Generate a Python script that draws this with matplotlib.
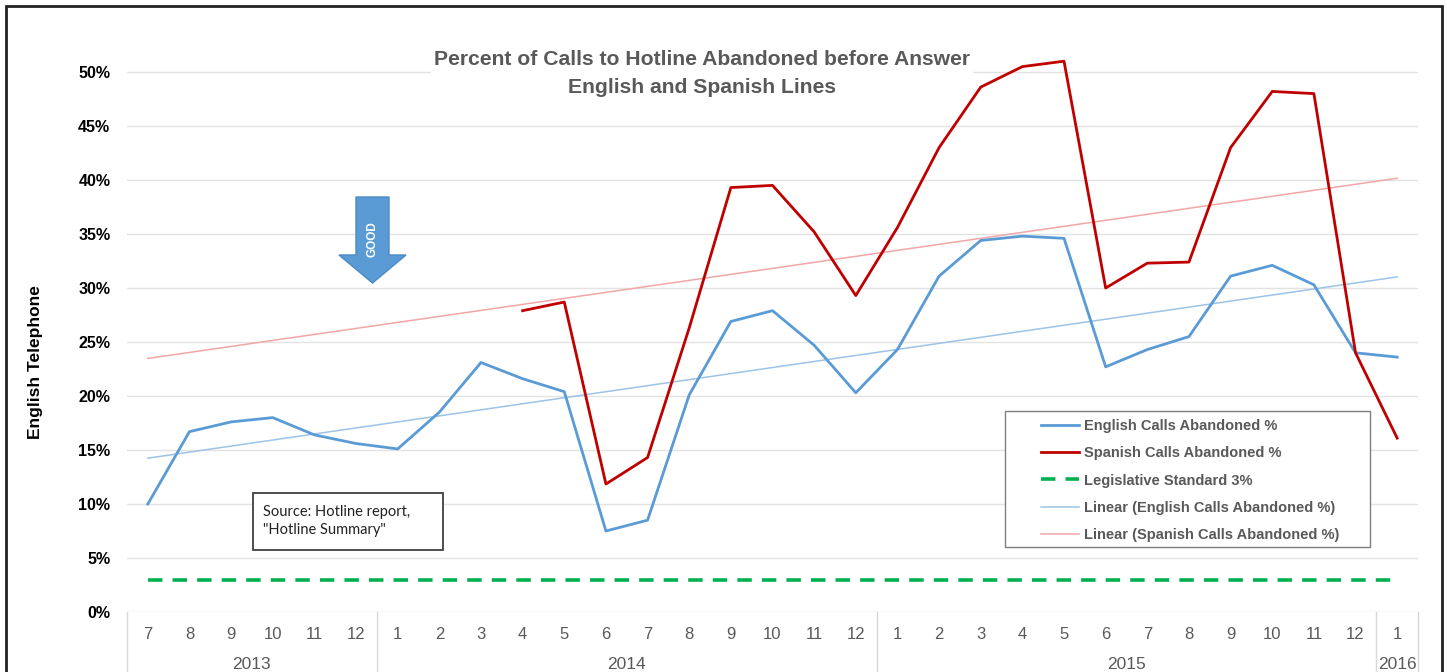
import matplotlib
matplotlib.use("Agg")
import matplotlib.pyplot as plt
import matplotlib.patches as mpatches
import matplotlib.transforms as mtransforms
import numpy as np

plt.rcParams['font.family'] = ['Liberation Sans', 'DejaVu Sans']

# months Jul 2013 .. Jan 2016
months = [7, 8, 9, 10, 11, 12,
          1, 2, 3, 4, 5, 6, 7, 8, 9, 10, 11, 12,
          1, 2, 3, 4, 5, 6, 7, 8, 9, 10, 11, 12,
          1]
years = ['2013', '2014', '2015', '2016']
year_len = [6, 12, 12, 1]

english = [10.0, 16.7, 17.6, 18.0, 16.4, 15.6,
           15.1, 18.5, 23.1, 21.6, 20.4, 7.5, 8.5, 20.1, 26.9, 27.9, 24.7, 20.3,
           24.3, 31.1, 34.4, 34.8, 34.6, 22.7, 24.3, 25.5, 31.1, 32.1, 30.3, 24.0,
           23.6]
spanish = [np.nan] * 6 + [np.nan, np.nan, np.nan, 27.9, 28.7, 11.85, 14.3, 26.3, 39.3, 39.5, 35.2, 29.3,
           35.6, 43.0, 48.6, 50.5, 51.0, 30.0, 32.3, 32.4, 43.0, 48.2, 48.0, 24.0,
           16.1]
standard = 3.0

W, H = 1447, 672
fig = plt.figure(figsize=(W / 100, H / 100), dpi=100)
ax = fig.add_axes([127 / W, 1 - 612 / H, (1418 - 127) / W, (612 - 18) / H])

x = np.arange(len(months))
eng = np.array(english) / 100
spa = np.array(spanish) / 100

c_eng = '#5B9BD5'
c_spa = '#C00000'

# trend lines (least squares like excel)
ok = ~np.isnan(eng)
pe = np.polyfit(x[ok], eng[ok], 1)
ok = ~np.isnan(spa)
ps = np.polyfit(x[ok], spa[ok], 1)

ax.plot(x, eng, color=c_eng, lw=2.0, label='English Calls Abandoned %', zorder=4)
ax.plot(x, spa, color=c_spa, lw=2.0, label='Spanish Calls Abandoned %', zorder=4)
ax.plot(x, np.full(len(x), standard / 100), color='#00B050', lw=2.6, dashes=(4, 2.8),
        label='Legislative Standard 3%', zorder=3)
ax.plot(x, np.polyval(pe, x), color='#9DC3E6', lw=1.1,
        label='Linear (English Calls Abandoned %)', zorder=3)
ax.plot(x, np.polyval(ps, x), color='#F1A7A7', lw=1.1,
        label='Linear (Spanish Calls Abandoned %)', zorder=3)

ax.set_xlim(-0.5, len(x) - 0.5)
ax.set_ylim(0, 0.55)
yt = np.arange(0, 0.51, 0.05)
ax.set_yticks(yt)
ax.set_yticklabels([f'{int(round(v * 100))}%' for v in yt], fontsize=11.5, fontweight='bold')
ax.tick_params(axis='y', length=0, pad=12)
for v in yt:
    ax.axhline(v, color='#E3E3E3', lw=1.0, zorder=1)
ax.set_xticks([])
for s in ax.spines.values():
    s.set_visible(False)

# category axis labels
tr = mtransforms.blended_transform_factory(ax.transData, ax.transAxes)
for i, m in enumerate(months):
    ax.text(i, -0.038, str(m), transform=tr, ha='center', va='center',
            fontsize=12, color='#595959', clip_on=False)
start = 0
bounds = [-0.5]
for yname, n in zip(years, year_len):
    ax.text(start + (n - 1) / 2, -0.088, yname, transform=tr, ha='center', va='center',
            fontsize=12.5, color='#595959', clip_on=False)
    start += n
    bounds.append(start - 0.5)
for b in bounds:
    ax.plot([b, b], [0, -0.12], transform=tr, color='#D9D9D9', lw=1.0, clip_on=False)

ax.set_ylabel('English Telephone', fontsize=12.5, fontweight='bold')
ax.yaxis.set_label_coords(-(127 - 43) / (1418 - 127), 0.42)

# title (white box hides gridline but sits under the data lines)
ax.text(702 / W, 1 - 73.5 / H, 'Percent of Calls to Hotline Abandoned before Answer\nEnglish and Spanish Lines',
        transform=fig.transFigure, ha='center', va='center', fontsize=15.2, fontweight='bold',
        color='#595959', linespacing=1.6, zorder=2, clip_on=False,
        bbox=dict(facecolor='white', edgecolor='none', pad=2))

# GOOD arrow
arrow = mpatches.Polygon([(356 / W, 1 - 197 / H), (389 / W, 1 - 197 / H), (389 / W, 1 - 255 / H),
                          (406 / W, 1 - 255 / H), (372.5 / W, 1 - 283 / H), (339 / W, 1 - 255 / H),
                          (356 / W, 1 - 255 / H)], closed=True, transform=fig.transFigure,
                         facecolor='#5B9BD5', edgecolor='#4A89C5', lw=1)
fig.patches.append(arrow)
fig.text(372.5 / W, 1 - 239 / H, 'GOOD', rotation=90, ha='center', va='center',
         color='white', fontsize=8.5, fontweight='bold')

# source box
fig.patches.append(mpatches.Rectangle((253 / W, 1 - 550 / H), 190 / W, 57 / H,
                                      transform=fig.transFigure, facecolor='white',
                                      edgecolor='#404040', lw=1.3, zorder=5))
fig.text(263 / W, 1 - 521 / H, 'Source: Hotline report,\n"Hotline Summary"', ha='left', va='center',
         fontsize=10.5, family=['Lato', 'DejaVu Sans'], color='#222222', linespacing=1.3, zorder=6)

# legend
fig.patches.append(mpatches.Rectangle((1005 / W, 1 - 547 / H), 365 / W, 136 / H,
                                      transform=fig.transFigure, facecolor='white',
                                      edgecolor='#7F7F7F', lw=1.0, zorder=5))
handles, labels = ax.get_legend_handles_labels()
leg = fig.legend(handles, labels, loc='upper left', bbox_to_anchor=(1034 / W, 1 - 412 / H),
                 bbox_transform=fig.transFigure, frameon=False, borderpad=0,
                 handlelength=2.6, handletextpad=0.35, labelspacing=0.9,
                 prop={'size': 10.5, 'weight': 'bold'})
leg.set_zorder(7)
for t in leg.get_texts():
    t.set_color('#595959')

# outer border
fig.patches.append(mpatches.Rectangle((6 / W, -0.05), (1442 - 6) / W, 1.05 - 6 / H,
                                      transform=fig.transFigure, fill=False,
                                      edgecolor='#222222', lw=2))

fig.savefig('out.png', dpi=100)
